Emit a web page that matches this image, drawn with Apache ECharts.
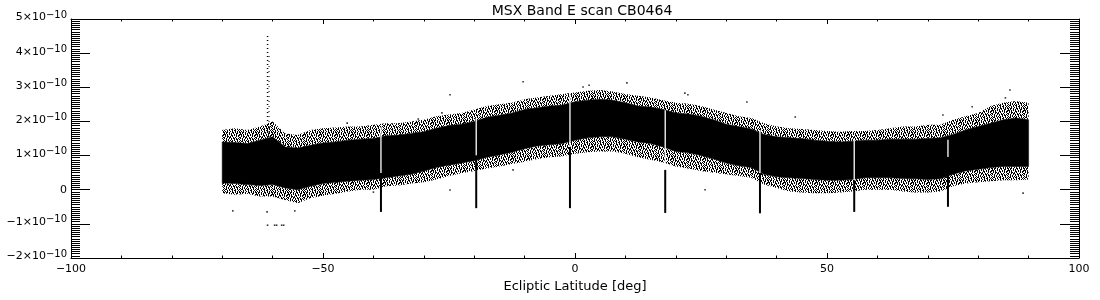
<!DOCTYPE html>
<html><head><meta charset="utf-8">
<script src="https://cdn.jsdelivr.net/npm/echarts@6/dist/echarts.min.js"></script>
<style>html,body{margin:0;padding:0;background:#fff}#c{width:1100px;height:300px}</style>
</head><body><div id="c"></div>
<script>
// All flux values are in units of 1e-10
const chartTitle = 'MSX Band E scan CB0464';
const xAxisName = 'Ecliptic Latitude [deg]';
const yExponent = '\u221210';

// sampled envelope of the dense scan signal
const latitudes = [-70,-67.5,-65,-62.5,-60,-57.5,-55,-52.5,-50,-47.5,-45,-42.5,-40,-37.5,-35,-32.5,-30,-27.5,-25,-22.5,-20,-17.5,-15,-12.5,-10,-7.5,-5,-2.5,0,2.5,5,7.5,10,12.5,15,17.5,20,22.5,25,27.5,30,32.5,35,37.5,40,42.5,45,47.5,50,52.5,55,57.5,60,62.5,65,67.5,70,72.5,75,77.5,80,82.5,85,87.5,90];
const fringeTop = [
 1.75,1.80,1.75,1.85,2.00, 1.65,1.60,1.75,1.80,1.82, 1.85,1.85,1.90,1.95,1.95,
 2.00,2.05,2.15,2.20,2.25, 2.35,2.45,2.50,2.55,2.65, 2.70,2.75,2.80,2.85,2.90,
 2.92,2.88,2.80,2.75,2.70, 2.62,2.55,2.52,2.45,2.35, 2.25,2.15,2.10,1.95,1.85,
 1.80,1.78,1.75,1.72,1.70, 1.72,1.72,1.75,1.80,1.85, 1.85,1.90,1.90,2.05,2.15,
 2.25,2.45,2.55,2.60,2.55];
const coreTop = [
 1.40,1.38,1.35,1.45,1.55, 1.25,1.22,1.30,1.37,1.40, 1.45,1.48,1.50,1.58,1.60,
 1.65,1.70,1.80,1.88,1.92, 2.00,2.12,2.18,2.25,2.35, 2.40,2.45,2.48,2.58,2.62,
 2.65,2.62,2.55,2.45,2.42, 2.35,2.25,2.22,2.15,2.05, 1.92,1.85,1.78,1.62,1.55,
 1.52,1.50,1.45,1.42,1.40, 1.42,1.45,1.45,1.48,1.48, 1.48,1.50,1.52,1.62,1.75,
 1.85,1.95,2.05,2.10,2.05];
const coreBottom = [
 0.20,0.18,0.15,0.12,0.15, 0.05,0.00,0.10,0.18,0.22, 0.25,0.28,0.30,0.35,0.40,
 0.45,0.55,0.65,0.72,0.78, 0.85,0.95,1.02,1.10,1.20, 1.28,1.32,1.35,1.45,1.52,
 1.55,1.55,1.48,1.40,1.35, 1.25,1.12,1.08,1.00,0.90, 0.78,0.70,0.65,0.45,0.38,
 0.35,0.33,0.30,0.28,0.28, 0.30,0.35,0.35,0.35,0.33, 0.32,0.30,0.32,0.45,0.55,
 0.60,0.65,0.68,0.68,0.68];
const fringeBottom = [
 -0.10,-0.15,-0.12,-0.20,-0.20, -0.30,-0.40,-0.25,-0.18,-0.12, -0.05,0.00,0.00,0.10,0.12,
 0.18,0.22,0.30,0.40,0.48, 0.55,0.62,0.68,0.75,0.82, 0.90,0.95,0.98,1.05,1.10,
 1.12,1.12,1.05,0.95,0.88, 0.80,0.68,0.62,0.55,0.50, 0.45,0.40,0.35,0.15,0.05,
 -0.05,-0.08,-0.10,-0.10,-0.08, -0.05,0.00,0.00,0.00,-0.05, -0.08,-0.08,-0.05,0.10,0.18,
 0.22,0.25,0.28,0.28,0.30];

// crossings: white gap through the band and black dip below it
const dipLatitudes = [-38.5,-19.6,-1.0,17.9,36.7,55.4,74.0];
const dipGapTop    = [1.84,2.10,2.83,2.33,1.75,1.50,1.46];
const dipGapBottom = [0.49,1.00,1.25,0.58,0.49,0.28,0.96];
const dipMin       = [-0.65,-0.54,-0.54,-0.68,-0.69,-0.65,-0.50];

// upward spike
const spikeLatitudes = [-61.0];
const spikeTop = [4.5];
const spikeBottom = [1.5];

// isolated points
const outlierLat = [-67.9,-61.1,-55.6,-61.0,-59.6,-59.2,-58.2,-57.8,-45.2,-31.1,-26.4,-40.0,-24.8,-10.3,1.6,2.8,10.3,21.8,-24.8,-12.3,22.4,34.1,25.8,43.7,73.0,86.3,78.8,88.9,85.4];
const outlierVal = [-0.62,-0.65,-0.62,-1.04,-1.04,-1.04,-1.04,-1.04,1.95,2.07,2.25,-0.07,2.78,3.16,3.01,3.06,3.13,2.83,-0.01,0.58,2.78,2.57,0.00,2.13,2.19,2.92,2.43,-0.10,2.69];

const xMin = -100, xMax = 100, xInterval = 50;
const yMin = -2, yMax = 5, yInterval = 1;

const FONT = 'DejaVu Sans';

// texture tile for the speckled fringe of the band
const speckleRows = [
  '#.##.#..##.#.#.#',
  '#.#..#.#.#..##..',
  '##.#.#.#..#.#..#',
  '.#.#...##.#.#.##',
  '.#.##.#.#...#.#.',
  '#..#.##..#.#...#',
  '#.#..#.#.##.#.#.',
  '..#.#..#..#.##.#',
  '#.#.#.#.#.#..#..',
  '.##..#.##..#.#.#',
  '#..#.#..#.##..#.',
  '.#.#..#.#..#.#.#'
];
function speckle(rows) {
  const c = document.createElement('canvas');
  c.width = rows[0].length; c.height = rows.length;
  const g = c.getContext('2d');
  g.fillStyle = '#000';
  rows.forEach((r, y) => { for (let x = 0; x < r.length; x++) if (r[x] === '#') g.fillRect(x, y, 1, 1); });
  return c;
}
const fringePattern = speckle(speckleRows);

function bandPolygon(api, upper, lower) {
  const pts = [];
  for (let i = 0; i < latitudes.length; i++) pts.push(api.coord([latitudes[i], upper[i]]));
  for (let i = latitudes.length - 1; i >= 0; i--) pts.push(api.coord([latitudes[i], lower[i]]));
  return pts;
}

function yLabel(v) {
  if (Math.abs(v) < 1e-9) return '{z|0}';
  const m = Math.round(v);
  return '{b|' + (m < 0 ? '\u2212' : '') + Math.abs(m) + '\u00d710}{s|' + yExponent + '}';
}

const axisLineStyle = { color: '#000', width: 1 };
const xCommon = {
  type: 'value', min: xMin, max: xMax, interval: xInterval,
  axisLine: { show: true, onZero: false, lineStyle: axisLineStyle },
  axisTick: { show: true, inside: true, length: 5, lineStyle: axisLineStyle },
  minorTick: { show: true, splitNumber: 5, length: 2.5, lineStyle: axisLineStyle },
  splitLine: { show: false }, minorSplitLine: { show: false }
};
const yCommon = {
  type: 'value', min: yMin, max: yMax, interval: yInterval,
  axisLine: { show: true, onZero: false, lineStyle: axisLineStyle },
  axisTick: { show: true, inside: true, length: 19, lineStyle: axisLineStyle },
  minorTick: { show: true, splitNumber: 16, length: 9, lineStyle: axisLineStyle },
  splitLine: { show: false }, minorSplitLine: { show: false }
};

const chart = echarts.init(document.getElementById('c'), null, { renderer: 'canvas' });
chart.setOption({
  animation: false,
  backgroundColor: '#fff',
  title: {
    text: chartTitle, left: 577, top: -1, textAlign: 'center',
    textStyle: { fontFamily: FONT, fontSize: 14, fontWeight: 'normal', color: '#000' }
  },
  grid: { left: 71, right: 21, top: 19, bottom: 42, containLabel: false },
  xAxis: [
    Object.assign({}, xCommon, {
      position: 'bottom',
      name: xAxisName, nameLocation: 'middle', nameGap: 18,
      nameTextStyle: { fontFamily: FONT, fontSize: 13, color: '#000' },
      axisLabel: { show: true, margin: 6, fontFamily: FONT, fontSize: 11, color: '#000',
        formatter: v => String(v).replace('-', '\u2212') }
    }),
    Object.assign({}, xCommon, { position: 'top', axisLabel: { show: false } })
  ],
  yAxis: [
    Object.assign({}, yCommon, {
      position: 'left',
      axisLabel: {
        show: true, margin: 4, formatter: yLabel, color: '#000',
        rich: {
          z: { fontFamily: FONT, fontSize: 11, color: '#000', lineHeight: 12 },
          b: { fontFamily: FONT, fontSize: 11, color: '#000', lineHeight: 12, verticalAlign: 'bottom', padding: [0,0,2,0] },
          s: { fontFamily: FONT, fontSize: 10, color: '#000', lineHeight: 12, verticalAlign: 'bottom', padding: [0,0,5,0] }
        }
      }
    }),
    Object.assign({}, yCommon, { position: 'right', axisLabel: { show: false } })
  ],
  series: [
    {
      type: 'custom', xAxisIndex: 0, yAxisIndex: 0, clip: true, silent: true,
      data: [0],
      renderItem: function (params, api) {
        return {
          type: 'group',
          children: [
            { type: 'polygon', shape: { points: bandPolygon(api, fringeTop, coreTop) },
              style: { fill: { image: fringePattern, repeat: 'repeat' }, stroke: null } },
            { type: 'polygon', shape: { points: bandPolygon(api, coreBottom, fringeBottom) },
              style: { fill: { image: fringePattern, repeat: 'repeat' }, stroke: null } },
            { type: 'polygon', shape: { points: bandPolygon(api, coreTop, coreBottom) },
              style: { fill: '#000', stroke: '#000', lineWidth: 0.5 } }
          ]
        };
      }
    },
    {
      type: 'custom', xAxisIndex: 0, yAxisIndex: 0, silent: true,
      data: dipLatitudes.map((x, i) => [x, dipGapTop[i], dipGapBottom[i], dipMin[i]]),
      renderItem: function (params, api) {
        const x = api.value(0);
        const a = api.coord([x, api.value(1)]);
        const b = api.coord([x, api.value(2)]);
        const c = api.coord([x, api.value(3)]);
        return {
          type: 'group',
          children: [
            { type: 'line', shape: { x1: a[0], y1: a[1], x2: b[0], y2: b[1] }, style: { stroke: '#fff', lineWidth: 1.3 } },
            { type: 'line', shape: { x1: b[0], y1: b[1], x2: c[0], y2: c[1] }, style: { stroke: '#000', lineWidth: 2 } }
          ]
        };
      }
    },
    {
      type: 'custom', xAxisIndex: 0, yAxisIndex: 0, silent: true,
      data: spikeLatitudes.map((x, i) => [x, spikeTop[i], spikeBottom[i]]),
      renderItem: function (params, api) {
        const x = api.value(0);
        const a = api.coord([x, api.value(1)]);
        const b = api.coord([x, api.value(2)]);
        return {
          type: 'group',
          children: [
            { type: 'line', shape: { x1: a[0], y1: a[1], x2: b[0], y2: b[1] }, style: { stroke: '#000', lineWidth: 1.5, lineDash: [1, 3] } },
            { type: 'line', shape: { x1: a[0] + 1.5, y1: a[1] + 20, x2: b[0] + 1.5, y2: b[1] }, style: { stroke: '#000', lineWidth: 1, lineDash: [1, 4] } }
          ]
        };
      }
    },
    {
      type: 'scatter', xAxisIndex: 0, yAxisIndex: 0, silent: true,
      symbol: 'rect', symbolSize: 1.6,
      itemStyle: { color: '#000' },
      data: outlierLat.map((x, i) => [x, outlierVal[i]])
    }
  ]
});
</script>
</body></html>
